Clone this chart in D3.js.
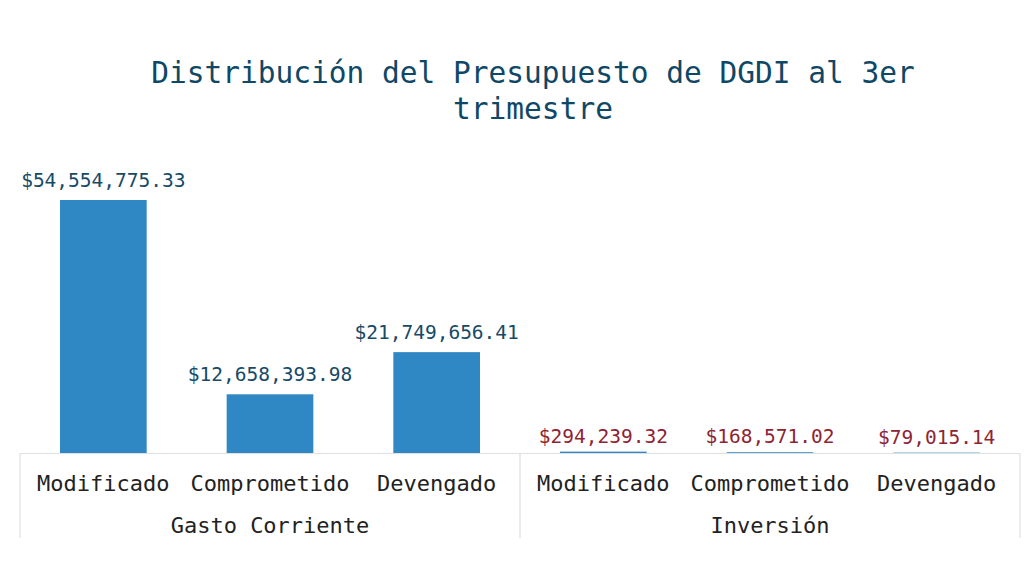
<!DOCTYPE html>
<html><head><meta charset="utf-8">
<script src="https://cdn.jsdelivr.net/npm/d3@7"></script>
<style>html,body{margin:0;padding:0;background:#fff;}svg{display:block;font-family:"DejaVu Sans Mono",monospace;}</style>
</head><body><svg id="c" width="1025" height="585"></svg>
<script>
const titleLines = ["Distribución del Presupuesto de DGDI al 3er", "trimestre"];
const groups = ["Gasto Corriente", "Inversión"];
const categories = ["Modificado", "Comprometido", "Devengado"];
const gastoCorriente = [54554775.33, 12658393.98, 21749656.41];
const inversion = [294239.32, 168571.02, 79015.14];
const labelColors = ["#164a66", "#8e2433"];

const data = [];
groups.forEach((g, gi) => {
  const vals = gi === 0 ? gastoCorriente : inversion;
  categories.forEach((c, ci) => data.push({group: g, cat: c, key: g + "|" + c, value: vals[ci], gi}));
});

const svg = d3.select("#c");
const left = 20, right = 1020, base = 453;
const x = d3.scaleBand().domain(data.map(d => d.key)).range([left, right]).paddingInner(0.48).paddingOuter(0.24);
const xg = d3.scaleBand().domain(groups).range([left, right]);
const y = d3.scaleLinear().domain([0, d3.max(gastoCorriente)]).range([base, 200]);

svg.append("g").selectAll("text").data(titleLines).join("text")
  .attr("x", 533).attr("y", (d, i) => 83 + i * 36)
  .attr("text-anchor", "middle").attr("font-size", 29.5).attr("fill", "#0f4866").text(d => d);

svg.append("g").selectAll("rect").data(data).join("rect")
  .attr("x", d => x(d.key)).attr("width", x.bandwidth())
  .attr("y", d => y(d.value)).attr("height", d => base - y(d.value))
  .attr("fill", "#2f87c4");

const fmt = d3.format("$,.2f");
svg.append("g").selectAll("text").data(data).join("text")
  .attr("x", d => x(d.key) + x.bandwidth() / 2)
  .attr("y", d => y(d.value) - (d.gi === 0 ? 13 : 9))
  .attr("text-anchor", "middle").attr("font-size", 19.5)
  .attr("fill", d => labelColors[d.gi]).text(d => fmt(d.value));

// axis frame
const ax = svg.append("g").attr("stroke", "#e0e0e0").attr("stroke-width", 1.2);
ax.append("line").attr("x1", left).attr("x2", right).attr("y1", base + 0.5).attr("y2", base + 0.5);
[left, xg(groups[1]), right].forEach(px => {
  ax.append("line").attr("x1", px).attr("x2", px).attr("y1", base).attr("y2", 538);
});

svg.append("g").selectAll("text").data(data).join("text")
  .attr("x", d => x(d.key) + x.bandwidth() / 2).attr("y", 491)
  .attr("text-anchor", "middle").attr("font-size", 22).attr("fill", "#222").text(d => d.cat);

svg.append("g").selectAll("text").data(groups).join("text")
  .attr("x", d => xg(d) + xg.bandwidth() / 2).attr("y", 533)
  .attr("text-anchor", "middle").attr("font-size", 22).attr("fill", "#222").text(d => d);
</script></body></html>
